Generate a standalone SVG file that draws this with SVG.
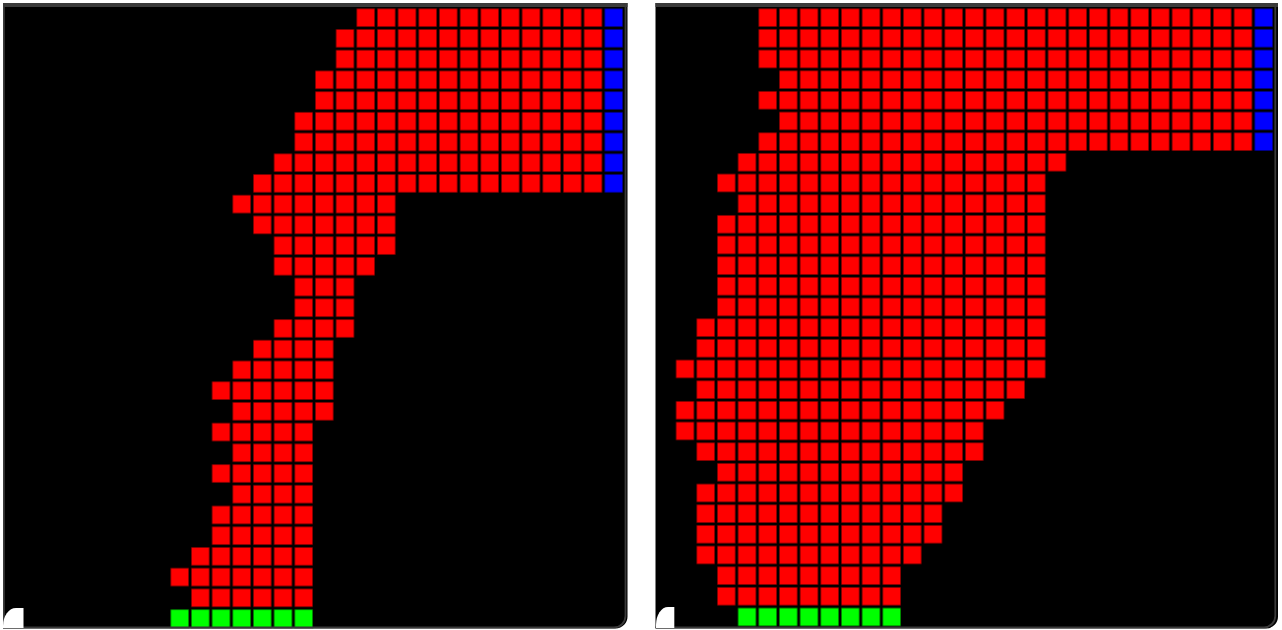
<svg xmlns="http://www.w3.org/2000/svg" width="1282" height="630" viewBox="0 0 1282 630">
<style>
.bg{fill:#000}
.bar{fill:#3a3a3a}
.edge{fill:none;stroke:#3a3a3a;stroke-width:1.8}
.mark{fill:#fff}
</style>
<defs>
<pattern id="pr" patternUnits="userSpaceOnUse" width="1" height="1">
<rect x="0.058" y="0.058" width="0.8855" height="0.8855" fill="#ff0000" stroke="#000" stroke-opacity="0.5" stroke-width="0.0484"/>
</pattern>
<pattern id="pg" patternUnits="userSpaceOnUse" width="1" height="1">
<rect x="0.058" y="0.058" width="0.8855" height="0.8855" fill="#00ff00" stroke="#000" stroke-opacity="0.5" stroke-width="0.0484"/>
</pattern>
<pattern id="pb" patternUnits="userSpaceOnUse" width="1" height="1">
<rect x="0.058" y="0.058" width="0.8855" height="0.8855" fill="#0000ff" stroke="#000" stroke-opacity="0.5" stroke-width="0.0484"/>
</pattern>
</defs>
<rect width="1282" height="630" fill="#fff"/>

<g id="panel-left">
<path class="bg" d="M3 3 H627.5 V616 A12 12 0 0 1 615.5 628.5 H3 Z"/>
<g id="grid-left" transform="translate(4,7.3) scale(20.6667,20.72)">
<g fill="url(#pr)">
<rect x="17" y="0" width="12" height="1"/>
<rect x="16" y="1" width="13" height="1"/>
<rect x="16" y="2" width="13" height="1"/>
<rect x="15" y="3" width="14" height="1"/>
<rect x="15" y="4" width="14" height="1"/>
<rect x="14" y="5" width="15" height="1"/>
<rect x="14" y="6" width="15" height="1"/>
<rect x="13" y="7" width="16" height="1"/>
<rect x="12" y="8" width="17" height="1"/>
<rect x="11" y="9" width="8" height="1"/>
<rect x="12" y="10" width="7" height="1"/>
<rect x="13" y="11" width="6" height="1"/>
<rect x="13" y="12" width="5" height="1"/>
<rect x="14" y="13" width="3" height="1"/>
<rect x="14" y="14" width="3" height="1"/>
<rect x="13" y="15" width="4" height="1"/>
<rect x="12" y="16" width="4" height="1"/>
<rect x="11" y="17" width="5" height="1"/>
<rect x="10" y="18" width="6" height="1"/>
<rect x="11" y="19" width="5" height="1"/>
<rect x="10" y="20" width="5" height="1"/>
<rect x="11" y="21" width="4" height="1"/>
<rect x="10" y="22" width="5" height="1"/>
<rect x="11" y="23" width="4" height="1"/>
<rect x="10" y="24" width="5" height="1"/>
<rect x="10" y="25" width="5" height="1"/>
<rect x="9" y="26" width="6" height="1"/>
<rect x="8" y="27" width="7" height="1"/>
<rect x="9" y="28" width="6" height="1"/>
</g>
<rect fill="url(#pb)" x="29" y="0" width="1" height="9"/>
<rect fill="url(#pg)" x="8" y="29" width="7" height="1"/>
</g>
<rect class="bar" x="3" y="3" width="624.5" height="4"/>
<path class="edge" d="M3.9 3 V627.4 H614 A11.5 11.5 0 0 0 625.5 616 V3"/>
<path class="mark" d="M3 628 V626 A13 18 0 0 1 16 608 H23.5 V628 Z"/>
</g>

<g id="panel-right">
<path class="bg" d="M655.5 3 H1278 V616 A12 12 0 0 1 1266 628.5 H655.5 Z"/>
<g id="grid-right" transform="translate(654,7.3) scale(20.6667,20.6667)">
<g fill="url(#pr)">
<rect x="5" y="0" width="24" height="1"/>
<rect x="5" y="1" width="24" height="1"/>
<rect x="5" y="2" width="24" height="1"/>
<rect x="6" y="3" width="23" height="1"/>
<rect x="5" y="4" width="24" height="1"/>
<rect x="6" y="5" width="23" height="1"/>
<rect x="5" y="6" width="24" height="1"/>
<rect x="4" y="7" width="16" height="1"/>
<rect x="3" y="8" width="16" height="1"/>
<rect x="4" y="9" width="15" height="1"/>
<rect x="3" y="10" width="16" height="1"/>
<rect x="3" y="11" width="16" height="1"/>
<rect x="3" y="12" width="16" height="1"/>
<rect x="3" y="13" width="16" height="1"/>
<rect x="3" y="14" width="16" height="1"/>
<rect x="2" y="15" width="17" height="1"/>
<rect x="2" y="16" width="17" height="1"/>
<rect x="1" y="17" width="18" height="1"/>
<rect x="2" y="18" width="16" height="1"/>
<rect x="1" y="19" width="16" height="1"/>
<rect x="1" y="20" width="15" height="1"/>
<rect x="2" y="21" width="14" height="1"/>
<rect x="3" y="22" width="12" height="1"/>
<rect x="2" y="23" width="13" height="1"/>
<rect x="2" y="24" width="12" height="1"/>
<rect x="2" y="25" width="12" height="1"/>
<rect x="2" y="26" width="11" height="1"/>
<rect x="3" y="27" width="9" height="1"/>
<rect x="3" y="28" width="9" height="1"/>
</g>
<rect fill="url(#pb)" x="29" y="0" width="1" height="7"/>
<rect fill="url(#pg)" x="4" y="29" width="8" height="1"/>
</g>
<rect class="bar" x="655.5" y="3" width="622.5" height="4"/>
<path class="edge" d="M655.5 627.4 H1264 A11.5 11.5 0 0 0 1275.3 616 V3"/>
<path class="mark" d="M656 628 V625 A12 18 0 0 1 668 607 H674.3 V628 Z"/>
</g>
</svg>
